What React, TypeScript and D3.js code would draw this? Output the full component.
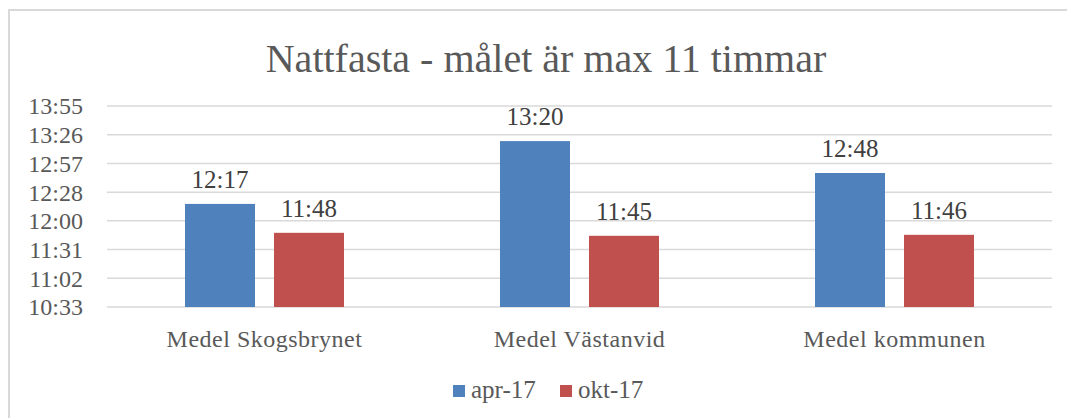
import { useEffect, useRef } from "react";
import * as d3 from "d3";

// Times are stored as fractions of a day (Excel style)
const categories = ["Medel Skogsbrynet", "Medel Västanvid", "Medel kommunen"];
const seriesNames = ["apr-17", "okt-17"];
const apr17 = ["12:17", "13:20", "12:48"];
const okt17 = ["11:48", "11:45", "11:46"];
const colors = ["#4f81bd", "#c0504d"];
const yTicks = [0.44, 0.46, 0.48, 0.5, 0.52, 0.54, 0.56, 0.58];

const toDay = (s: string) => {
  const [h, m] = s.split(":").map(Number);
  return (h * 60 + m) / 1440;
};
const fmtTime = (d: number) => {
  const mins = Math.floor(d * 1440 + 1e-6);
  return `${Math.floor(mins / 60)}:${String(mins % 60).padStart(2, "0")}`;
};

export default function App() {
  const ref = useRef<SVGSVGElement>(null);

  useEffect(() => {
    if (!ref.current) return;
    const svg = d3.select(ref.current);
    svg.selectAll("*").remove();

    const width = 1067;
    const height = 418;
    const margin = { top: 106, right: 15, bottom: 111, left: 107 };
    const font = "'Liberation Serif', 'DejaVu Serif', serif";
    const textColor = "#595959";

    // chart border
    svg.append("rect")
      .attr("x", 9).attr("y", 10)
      .attr("width", width + 20).attr("height", height + 20)
      .attr("fill", "white").attr("stroke", "#d9d9d9").attr("stroke-width", 2);

    const x = d3.scaleBand()
      .domain(categories)
      .range([margin.left, width - margin.right]);

    const y = d3.scaleLinear()
      .domain([0.44, 0.58])
      .range([height - margin.bottom, margin.top]);

    // grid lines
    svg.append("g")
      .selectAll("line")
      .data(yTicks)
      .join("line")
        .attr("x1", margin.left)
        .attr("x2", width - margin.right)
        .attr("y1", d => y(d))
        .attr("y2", d => y(d))
        .attr("stroke", "#d9d9d9")
        .attr("stroke-width", 1.5);

    // y labels
    svg.append("g")
      .selectAll("text")
      .data(yTicks)
      .join("text")
        .attr("x", 83)
        .attr("y", d => y(d))
        .attr("dy", "0.35em")
        .attr("text-anchor", "end")
        .attr("font-family", font)
        .attr("font-size", 24)
        .attr("fill", textColor)
        .text(d => fmtTime(d));

    const barW = 70;
    const gap = 19;
    const series = [apr17, okt17];

    series.forEach((vals, si) => {
      const g = svg.append("g");
      const offset = si === 0 ? -gap / 2 - barW : gap / 2;
      const data = categories.map((c, i) => ({ c, v: toDay(vals[i]), label: vals[i] }));
      g.selectAll("rect")
        .data(data)
        .join("rect")
          .attr("x", d => x(d.c)! + x.bandwidth() / 2 + offset)
          .attr("y", d => y(d.v))
          .attr("width", barW)
          .attr("height", d => y(0.44) - y(d.v))
          .attr("fill", colors[si]);
      g.selectAll("text")
        .data(data)
        .join("text")
          .attr("x", d => x(d.c)! + x.bandwidth() / 2 + offset + barW / 2)
          .attr("y", d => y(d.v) - 16)
          .attr("text-anchor", "middle")
          .attr("font-family", font)
          .attr("font-size", 25)
          .attr("fill", "#404040")
          .text(d => d.label);
    });

    // category labels
    svg.append("g")
      .selectAll("text")
      .data(categories)
      .join("text")
        .attr("x", d => x(d)! + x.bandwidth() / 2)
        .attr("y", 347)
        .attr("text-anchor", "middle")
        .attr("font-family", font)
        .attr("font-size", 24)
        .attr("letter-spacing", 0.5)
        .attr("fill", textColor)
        .text(d => d);

    // title
    svg.append("text")
      .attr("x", 546)
      .attr("y", 72)
      .attr("text-anchor", "middle")
      .attr("font-family", font)
      .attr("font-size", 40)
      .attr("fill", textColor)
      .text("Nattfasta - målet är max 11 timmar");

    // legend
    const legendX = [453, 560];
    seriesNames.forEach((name, i) => {
      svg.append("rect")
        .attr("x", legendX[i]).attr("y", 385)
        .attr("width", 12).attr("height", 12)
        .attr("fill", colors[i]);
      svg.append("text")
        .attr("x", legendX[i] + 18)
        .attr("y", 398)
        .attr("font-family", font)
        .attr("font-size", 25)
        .attr("fill", textColor)
        .text(name);
    });
  }, []);

  return (
    <svg
      ref={ref}
      width={1067}
      height={418}
      style={{ position: "absolute", left: 0, top: 0 }}
    />
  );
}
